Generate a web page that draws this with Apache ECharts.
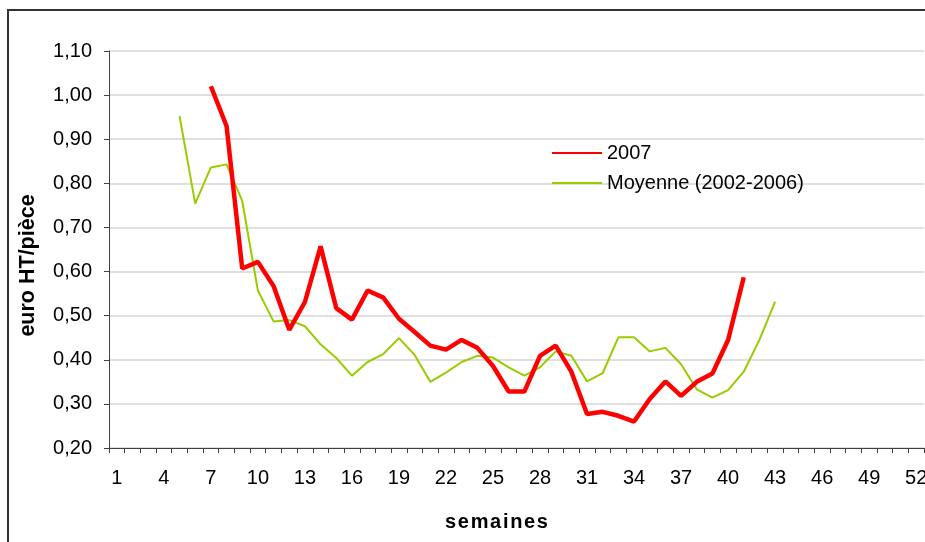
<!DOCTYPE html>
<html>
<head>
<meta charset="utf-8">
<script src="https://cdn.jsdelivr.net/npm/echarts@6/dist/echarts.min.js"></script>
<style>
  html, body { margin: 0; padding: 0; background: #ffffff; }
  #chart { width: 925px; height: 542px; }
</style>
</head>
<body>
<div id="chart"></div>
<script>
// semaines 1..52
const weeks = Array.from({ length: 52 }, (_, i) => String(i + 1))

// 2007: semaines 7 à 41
const start2007 = 7
const values2007 = [
  1.02, 0.93, 0.607, 0.622, 0.567, 0.468, 0.531, 0.657, 0.517, 0.491,
  0.557, 0.541, 0.493, 0.463, 0.432, 0.423, 0.445, 0.427, 0.386, 0.328,
  0.328, 0.409, 0.432, 0.373, 0.277, 0.282, 0.273, 0.26, 0.311, 0.351,
  0.318, 0.35, 0.369, 0.445, 0.587
]

// Moyenne (2002-2006): semaines 5 à 43
const startMoyenne = 5
const valuesMoyenne = [
  0.953, 0.754, 0.836, 0.843, 0.76, 0.557, 0.487, 0.49, 0.476, 0.435,
  0.404, 0.364, 0.395, 0.413, 0.449, 0.411, 0.35, 0.371, 0.395, 0.409,
  0.405, 0.383, 0.364, 0.383, 0.419, 0.409, 0.351, 0.37, 0.451, 0.451,
  0.419, 0.427, 0.39, 0.333, 0.314, 0.331, 0.373, 0.445, 0.532
]

const toSeries = (startWeek, values) =>
  weeks.map((w, i) => {
    const k = i + 1 - startWeek
    return k >= 0 && k < values.length ? values[k] : null
  })

const FONT = 'Liberation Sans, Arial, sans-serif'

const chart = echarts.init(document.getElementById('chart'), null, { renderer: 'canvas' })

chart.setOption({
  backgroundColor: '#ffffff',
  animation: false,
  textStyle: { fontFamily: FONT },
  grid: {
    left: 109,
    top: 51,
    width: 815,
    height: 397,
    containLabel: false,
    outerBoundsMode: 'none'
  },
  legend: {
    orient: 'vertical',
    left: 546,
    top: 138,
    itemWidth: 50,
    itemHeight: 14,
    itemGap: 10,
    itemStyle: { opacity: 0 },
    textStyle: { fontFamily: FONT, fontSize: 20, color: '#000000' },
    data: ['2007', 'Moyenne (2002-2006)']
  },
  xAxis: {
    type: 'category',
    data: weeks,
    boundaryGap: true,
    // lettres espacées comme dans l'original
    name: 's\u200Ae\u200Am\u200Aa\u200Ai\u200An\u200Ae\u200As',
    nameLocation: 'middle',
    nameGap: 64,
    nameTextStyle: {
      fontFamily: FONT,
      fontSize: 20,
      fontWeight: 'bold',
      color: '#000000',
      padding: [0, 40, 0, 0]
    },
    axisLine: { lineStyle: { color: '#404040', width: 1 } },
    axisTick: { show: true, interval: 0, length: 5, lineStyle: { color: '#404040' } },
    axisLabel: { interval: 2, margin: 20, fontSize: 20, color: '#000000', fontFamily: FONT }
  },
  yAxis: {
    type: 'value',
    min: 0.2,
    max: 1.1,
    interval: 0.1,
    name: 'euro HT/pièce',
    nameLocation: 'middle',
    nameRotate: 90,
    nameGap: 70,
    nameTextStyle: {
      fontFamily: FONT,
      fontSize: 21.5,
      fontWeight: 'bold',
      color: '#000000',
      padding: [0, 32, 0, 0]
    },
    axisLine: { show: true, lineStyle: { color: '#404040', width: 1 } },
    axisTick: { show: true, length: 5, lineStyle: { color: '#404040' } },
    axisLabel: {
      margin: 17,
      fontSize: 20,
      color: '#000000',
      fontFamily: FONT,
      formatter: (v) => v.toFixed(2).replace('.', ',')
    },
    splitLine: { lineStyle: { color: '#d4d4d4', width: 1.5 } }
  },
  series: [
    {
      name: '2007',
      type: 'line',
      data: toSeries(start2007, values2007),
      symbol: 'none',
      lineStyle: { color: '#ff0000', width: 4.5 },
      itemStyle: { color: '#ff0000' },
      z: 3
    },
    {
      name: 'Moyenne (2002-2006)',
      type: 'line',
      data: toSeries(startMoyenne, valuesMoyenne),
      symbol: 'none',
      lineStyle: { color: '#99cc00', width: 2 },
      itemStyle: { color: '#99cc00' },
      z: 2
    }
  ],
  graphic: [
    {
      type: 'rect',
      shape: { x: 8, y: 10, width: 1000, height: 1000 },
      style: { fill: 'none', stroke: '#333333', lineWidth: 2 },
      silent: true
    }
  ]
})
</script>
</body>
</html>
